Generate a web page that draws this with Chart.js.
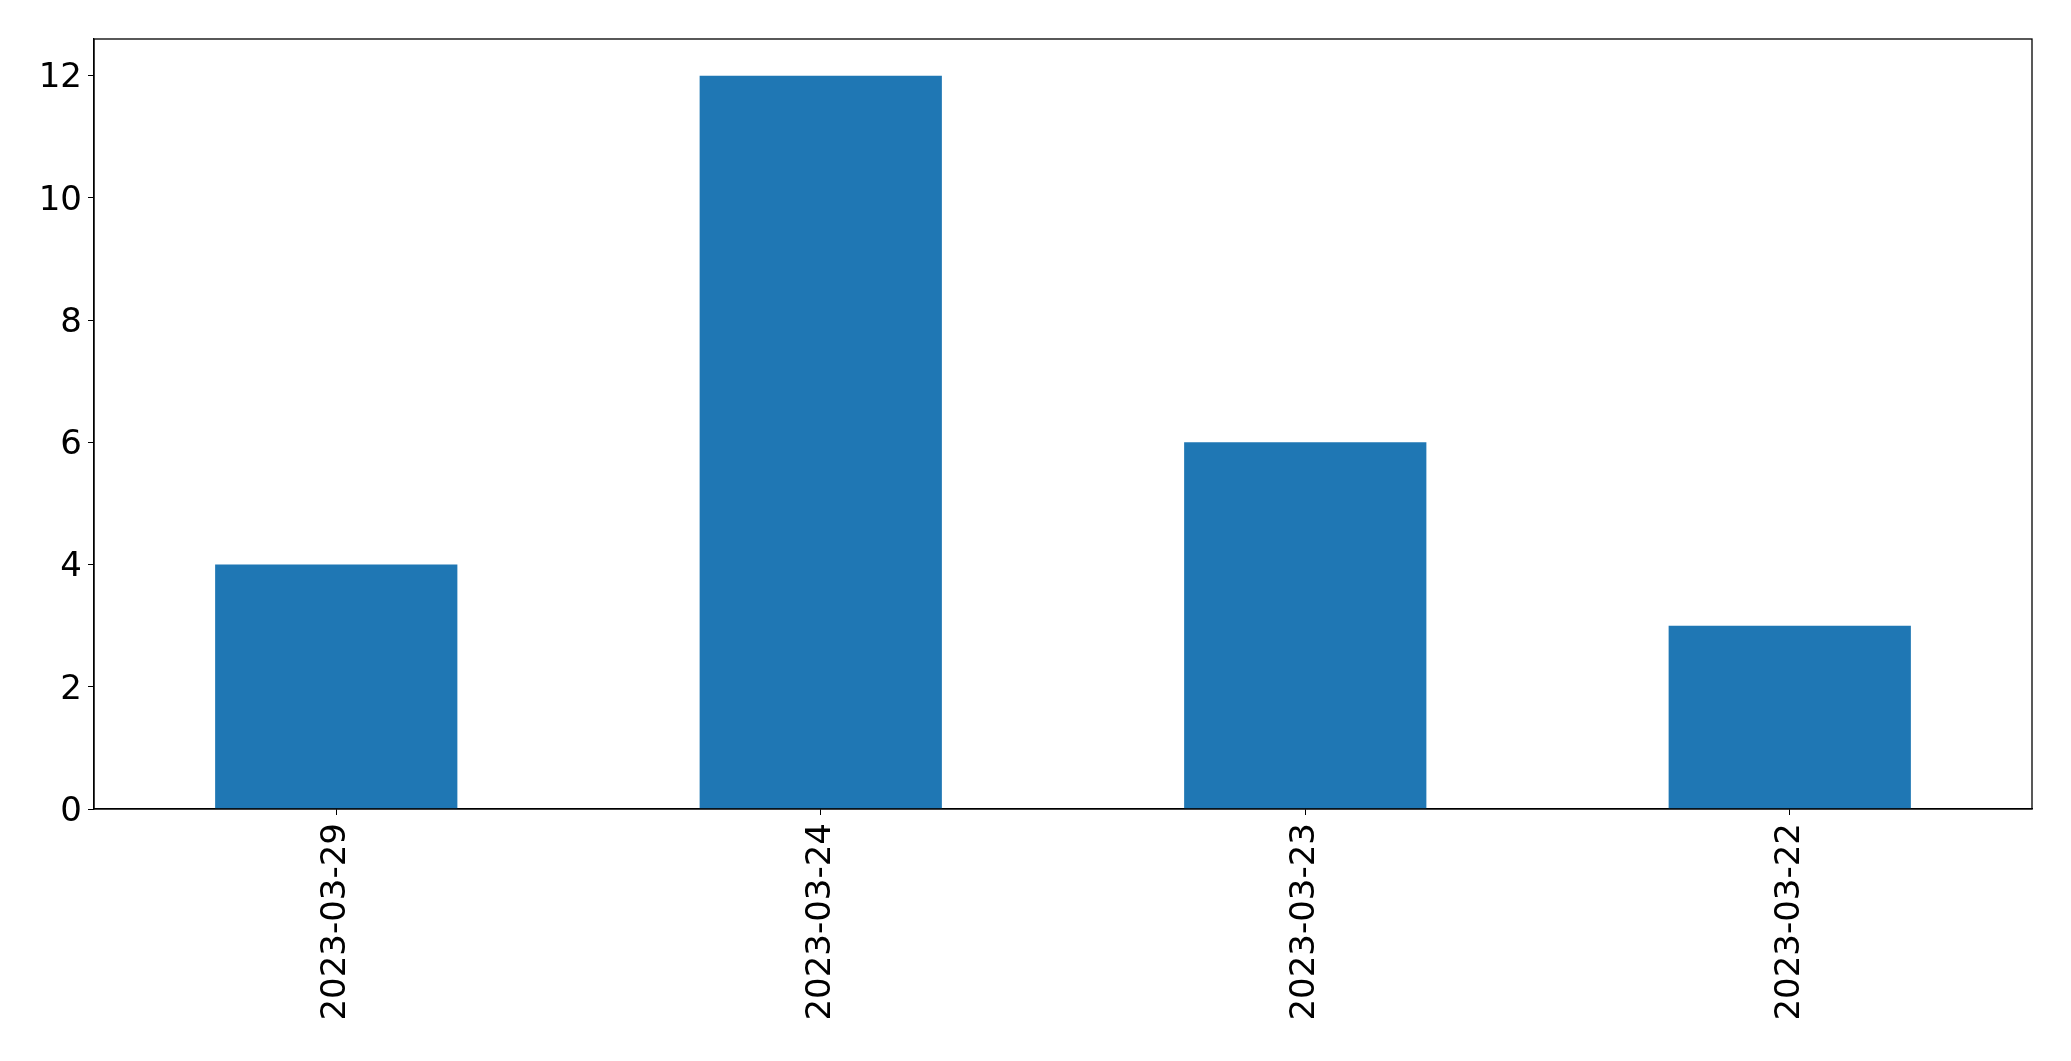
<!DOCTYPE html>
<html>
<head>
<meta charset="utf-8">
<script src="https://cdn.jsdelivr.net/npm/chart.js@4"></script>
<style>
  body { margin: 0; background: #fff; }
</style>
</head>
<body>
<canvas id="bar_chart" width="2071" height="1061"></canvas>
<script>
var dateLabels = ["2023-03-29", "2023-03-24", "2023-03-23", "2023-03-22"];
var countValues = [4, 12, 6, 3];
var yTickValues = [0, 2, 4, 6, 8, 10, 12];
var yMax = 12.6;

// 위쪽, 오른쪽 테두리
var frameBox = {
    id: 'frameBox',
    afterDraw: function (chart) {
        var area = chart.chartArea;
        var ctx = chart.ctx;
        ctx.save();
        ctx.strokeStyle = '#000';
        ctx.lineWidth = 1.3;
        ctx.strokeRect(area.left, area.top, area.right - area.left, area.bottom - area.top);
        ctx.restore();
    }
};

Chart.defaults.font.family = "'DejaVu Sans', sans-serif";
Chart.defaults.font.size = 34;
Chart.defaults.color = '#000';

var ctx = document.getElementById('bar_chart');
var myChart = new Chart(ctx, {
    type: 'bar',
    data: {
        labels: dateLabels,
        datasets: [{
            data: countValues,
            backgroundColor: '#1f77b4',
            categoryPercentage: 1.0,
            barPercentage: 0.5
        }]
    },
    plugins: [frameBox],
    options: {
        responsive: false,
        devicePixelRatio: 1,
        animation: false,
        layout: { padding: { top: 39, right: 39, left: 0, bottom: 0 } },
        plugins: {
            legend: { display: false },
            tooltip: { enabled: false }
        },
        scales: {
            x: {
                grid: { display: true, drawOnChartArea: false, drawTicks: true, tickLength: 6, color: '#000', offset: false },
                border: { display: true, color: '#000', width: 1.3 },
                ticks: { minRotation: 90, maxRotation: 90, padding: 8, autoSkip: false },
                afterFit: function (scale) { scale.height = 252; }
            },
            y: {
                min: 0,
                max: yMax,
                grid: { display: true, drawOnChartArea: false, drawTicks: true, tickLength: 6, color: '#000' },
                border: { display: true, color: '#000', width: 1.3 },
                ticks: { padding: 6, labelOffset: 3 },
                afterBuildTicks: function (scale) {
                    scale.ticks = yTickValues.map(function (v) { return { value: v }; });
                },
                afterFit: function (scale) { scale.width = 94; }
            }
        }
    }
});
</script>
</body>
</html>
